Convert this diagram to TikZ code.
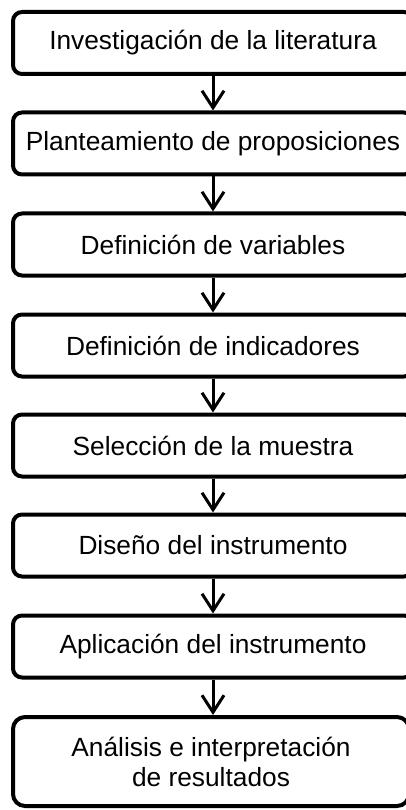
\documentclass[tikz,border=0pt]{standalone}
\usepackage{fontspec}
\setmainfont{Liberation Sans}
\usetikzlibrary{arrows.meta}
\begin{document}
\begin{tikzpicture}[x=1pt,y=-1pt,
  stepbox/.style={draw=black,line width=4pt,rounded corners=9pt,minimum width=400pt,minimum height=62pt,inner sep=0pt,align=center,font=\fontsize{26.3}{30}\selectfont},
  flowarrow/.style={line width=3pt,-{Straight Barb[length=17pt,width=22pt,line width=3pt]}}]
\useasboundingbox (0,0) rectangle (405,810);
\node[stepbox] (b1) at (213,43) {Investigación de la literatura};
\node[stepbox] (b2) at (213,143.5) {Planteamiento de proposiciones};
\node[stepbox] (b3) at (213,244.5) {Definición de variables};
\node[stepbox] (b4) at (213,345.5) {Definición de indicadores};
\node[stepbox] (b5) at (213,445.5) {Selección de la muestra};
\node[stepbox] (b6) at (213,545.5) {Diseño del instrumento};
\node[stepbox] (b7) at (213,646.5) {Aplicación del instrumento};
\node[stepbox,minimum height=89pt,minimum width=396pt,rounded corners=12pt] (b8) at (211,761.5) {Análisis e interpretación\\de resultados};
\draw[flowarrow] (b1.south) -- (b2.north);
\draw[flowarrow] (b2.south) -- (b3.north);
\draw[flowarrow] (b3.south) -- (b4.north);
\draw[flowarrow] (b4.south) -- (b5.north);
\draw[flowarrow] (b5.south) -- (b6.north);
\draw[flowarrow] (b6.south) -- (b7.north);
\draw[flowarrow] (b7.south) -- (b8.north -| b7.south);
\end{tikzpicture}
\end{document}
